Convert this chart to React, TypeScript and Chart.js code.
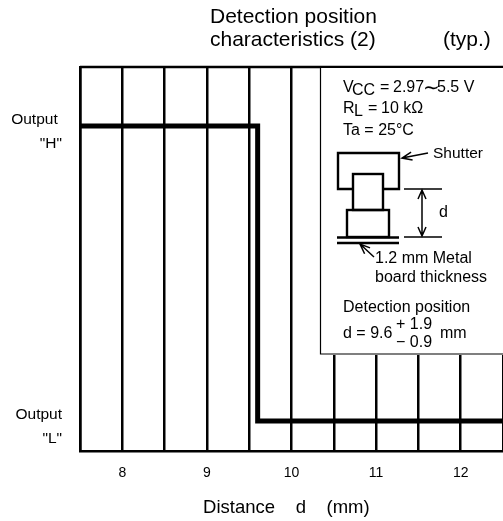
import React, { useEffect, useRef } from "react";
import { Chart, registerables } from "chart.js";
Chart.register(...registerables);

const distanceValues = [7.5, 9.6, 9.6, 12.5];
const outputValues = [1, 1, 0, 0];
const outputTicks = [0, 1];
const outputLabels: Record<number, string[]> = { 1: ["Output ", '"H"'], 0: ["Output", '"L"'] };
const titleLines = ["Detection position", "characteristics (2)"];
const FONT = '"Liberation Sans", Arial, sans-serif';

const arrow = (c: CanvasRenderingContext2D, x0: number, y0: number, x1: number, y1: number, len = 9, wid = 4) => {
  const a = Math.atan2(y1 - y0, x1 - x0);
  c.beginPath(); c.moveTo(x0, y0); c.lineTo(x1, y1);
  c.moveTo(x1 - len * Math.cos(a) - wid * Math.sin(a), y1 - len * Math.sin(a) + wid * Math.cos(a));
  c.lineTo(x1, y1);
  c.lineTo(x1 - len * Math.cos(a) + wid * Math.sin(a), y1 - len * Math.sin(a) - wid * Math.cos(a));
  c.stroke();
};

const inset = {
  id: "inset",
  afterDraw(chart: any) {
    const c = chart.ctx as CanvasRenderingContext2D;
    const { top, left, right } = chart.chartArea;
    c.save();
    c.strokeStyle = "#000";
    c.lineWidth = 2.5;
    c.beginPath(); c.moveTo(left, top); c.lineTo(right, top); c.stroke();
    c.fillStyle = "#000";
    c.textBaseline = "alphabetic";
    c.textAlign = "left";
    c.font = `21px ${FONT}`;
    c.fillText(titleLines[0], 210, 23);
    c.fillText(titleLines[1], 210, 46);
    c.fillText("(typ.)", 443, 46);
    // panel
    c.fillStyle = "#fff";
    c.fillRect(320, top + 1, 190, 287);
    c.strokeStyle = "#000";
    c.lineWidth = 1.2;
    c.beginPath(); c.moveTo(320.5, top); c.lineTo(320.5, 354); c.lineTo(503, 354); c.stroke();
    // panel text
    c.fillStyle = "#000";
    const t = (s: string, x: number, y: number, size = 16) => {
      c.font = `${size}px ${FONT}`;
      c.fillText(s, x, y);
    };
    t("V", 343, 92);
    t("CC", 352, 95);
    t("=", 380, 92);
    t("2.97", 393, 92);
    t("∼", 423, 94, 20);
    t("5.5 V", 437, 92);
    t("R", 343, 113);
    t("L", 354, 116);
    t("=", 368, 113);
    t("10 kΩ", 381, 113);
    t("Ta = 25°C", 343, 135);
    t("Shutter", 433, 158, 15.5);
    t("d", 439, 217);
    t("1.2 mm Metal", 375, 263);
    t("board thickness", 375, 282);
    t("Detection position", 343, 312);
    t("d = 9.6", 343, 338);
    t("+ 1.9", 396, 329);
    t("− 0.9", 396, 347);
    t("mm", 440, 338);
    // sensor sketch
    c.lineWidth = 2.4;
    c.beginPath();
    c.moveTo(352, 189); c.lineTo(338, 189); c.lineTo(338, 153); c.lineTo(399, 153); c.lineTo(399, 189); c.lineTo(384, 189);
    c.stroke();
    c.strokeRect(353, 174, 30, 36);
    c.strokeRect(347, 210, 42, 27);
    c.beginPath(); c.moveTo(337, 237.5); c.lineTo(399, 237.5); c.moveTo(337, 243); c.lineTo(399, 243); c.stroke();
    // dimension lines
    c.lineWidth = 1.3;
    c.beginPath();
    c.moveTo(404, 189); c.lineTo(442, 189);
    c.moveTo(404, 237); c.lineTo(442, 237);
    c.stroke();
    c.lineWidth = 1.5;
    arrow(c, 422, 213, 422, 190, 9, 4);
    arrow(c, 422, 213, 422, 236, 9, 4);
    arrow(c, 428, 153, 402, 158, 10, 4);
    arrow(c, 374, 257, 360, 244, 10, 4);
    c.restore();
  },
};

export default function App() {
  const ref = useRef<HTMLCanvasElement>(null);
  useEffect(() => {
    const chart = new Chart(ref.current!, {
      type: "line",
      data: {
        datasets: [{
          data: distanceValues.map((x, i) => ({ x, y: outputValues[i] })),
          borderColor: "#000",
          borderWidth: 5,
          pointRadius: 0,
          tension: 0,
          borderJoinStyle: "miter",
        }],
      },
      options: {
        responsive: false,
        animation: false,
        layout: { autoPadding: false, padding: { top: 67, right: 0, left: 0, bottom: 0 } },
        plugins: { legend: { display: false }, tooltip: { enabled: false }, title: { display: false } },
        scales: {
          x: {
            type: "linear", min: 7.5, max: 12.5,
            afterFit: (s: any) => { s.height = 70; s.paddingRight = 0; s.paddingLeft = 0; },
            grid: { color: "#000", lineWidth: 2.5, drawTicks: false },
            border: { color: "#000", width: 2.5 },
            ticks: {
              stepSize: 0.5, autoSkip: false, maxRotation: 0, padding: 14, color: "#000",
              font: { family: FONT, size: 14 },
              callback: (v: any) => (Number.isInteger(v) ? String(v) : ""),
            },
            title: { display: true, text: "Distance    d    (mm)  ", color: "#000", font: { family: FONT, size: 18.5 }, padding: { top: 12, bottom: 2 } },
          },
          y: {
            type: "linear", min: -0.102, max: 1.2,
            afterBuildTicks: (s: any) => { s.ticks = outputTicks.map((value) => ({ value })); },
            afterFit: (s: any) => { s.width = 80; s.paddingTop = 0; s.paddingBottom = 0; },
            grid: { display: false },
            border: { color: "#000", width: 2.5 },
            ticks: {
              padding: 10, color: "#000", labelOffset: 6, autoSkip: false,
              font: { family: FONT, size: 15.5, lineHeight: 1.55 },
              callback: (v: any) => outputLabels[v] ?? "",
            },
          },
        },
      },
      plugins: [inset],
    } as any);
    return () => chart.destroy();
  }, []);
  return (
    <div style={{ position: "fixed", left: 0, top: 0, width: 503, height: 521, background: "#fff" }}>
      <canvas ref={ref} width={503} height={521} style={{ display: "block" }} />
    </div>
  );
}
